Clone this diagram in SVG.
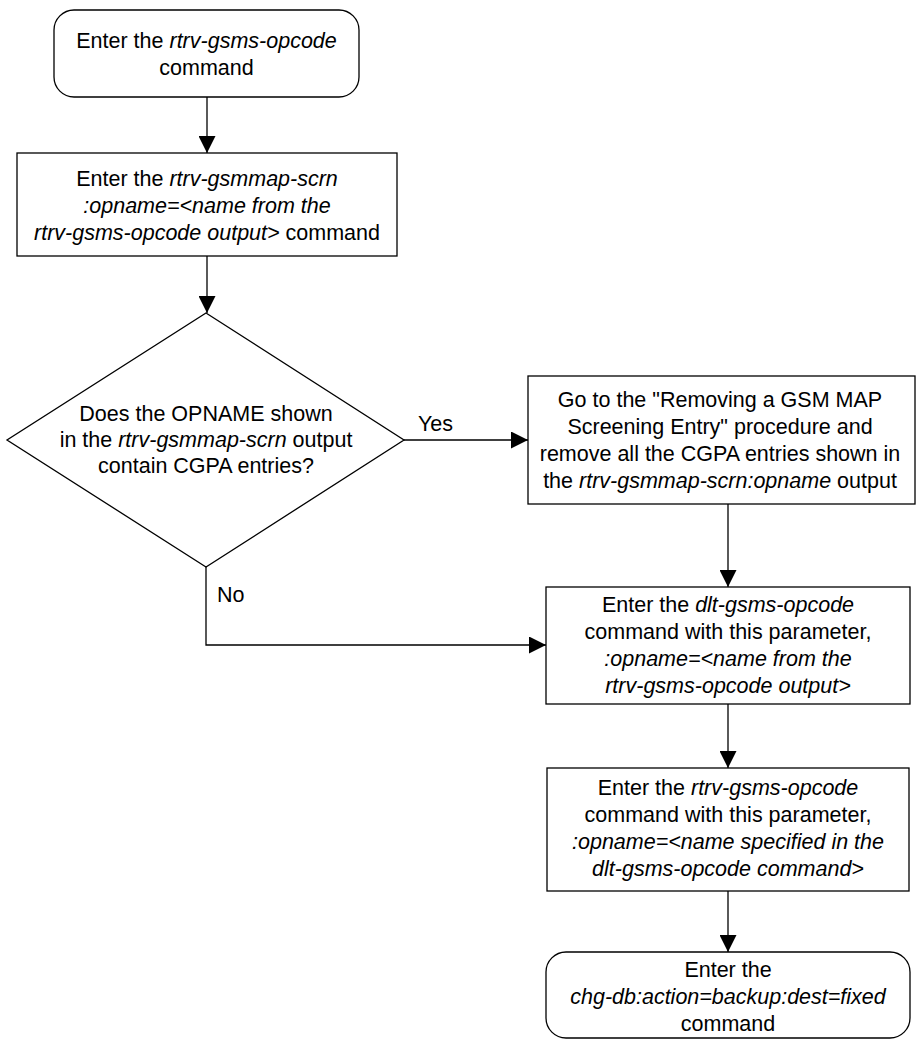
<svg xmlns="http://www.w3.org/2000/svg" width="917" height="1040" viewBox="0 0 917 1040">
<style>
.s{fill:#fff;stroke:#000;stroke-width:1.3}
.c{fill:none;stroke:#000;stroke-width:1.3}
text{font-family:"Liberation Sans",Arial,sans-serif;font-size:21.5px;fill:#000;text-anchor:middle}
.i{font-style:italic}
.l{text-anchor:start}
</style>
<defs>
<marker id="a" markerUnits="userSpaceOnUse" markerWidth="17" markerHeight="17" refX="17" refY="8.5" orient="auto">
<path d="M0,0 L17,8.5 L0,17 z" fill="#000"/>
</marker>
</defs>
<rect width="917" height="1040" fill="#fff"/>
<g id="connectors">
<path class="c" d="M207,97 V153" marker-end="url(#a)"/>
<path class="c" d="M207,256 V313" marker-end="url(#a)"/>
<path class="c" d="M404,440 H528" marker-end="url(#a)"/>
<path class="c" d="M728,504 V587" marker-end="url(#a)"/>
<path class="c" d="M206,567 V645 H546" marker-end="url(#a)"/>
<path class="c" d="M728,704 V768" marker-end="url(#a)"/>
<path class="c" d="M728,891 V952" marker-end="url(#a)"/>
<text class="l" x="418" y="431">Yes</text>
<text class="l" x="217" y="602">No</text>
</g>
<g id="start">
<rect class="s" x="54" y="10" width="305" height="87" rx="20"/>
<text x="206.5" y="48">Enter the <tspan class="i">rtrv-gsms-opcode</tspan></text>
<text x="206.5" y="75">command</text>
</g>
<g id="scrn">
<rect class="s" x="17" y="153" width="380" height="103"/>
<text x="207" y="186">Enter the <tspan class="i">rtrv-gsmmap-scrn</tspan></text>
<text x="207" y="213" class="i">:opname=&lt;name from the</text>
<text x="207" y="240"><tspan class="i">rtrv-gsms-opcode output&gt;</tspan> command</text>
</g>
<g id="decision">
<path class="s" d="M206,313 L404,440 L206,567 L7,440 Z"/>
<text x="206" y="421">Does the OPNAME shown</text>
<text x="206" y="447">in the <tspan class="i">rtrv-gsmmap-scrn</tspan> output</text>
<text x="206" y="473">contain CGPA entries?</text>
</g>
<g id="remove">
<rect class="s" x="528" y="376" width="387" height="128"/>
<text x="720" y="407">Go to the "Removing a GSM MAP</text>
<text x="720" y="434">Screening Entry" procedure and</text>
<text x="720" y="461">remove all the CGPA entries shown in</text>
<text x="720" y="488">the <tspan class="i">rtrv-gsmmap-scrn:opname</tspan> output</text>
</g>
<g id="dlt">
<rect class="s" x="546" y="587" width="364" height="117"/>
<text x="728" y="612">Enter the <tspan class="i">dlt-gsms-opcode</tspan></text>
<text x="728" y="639">command with this parameter,</text>
<text x="728" y="666" class="i">:opname=&lt;name from the</text>
<text x="728" y="693" class="i">rtrv-gsms-opcode output&gt;</text>
</g>
<g id="verify">
<rect class="s" x="547" y="768" width="362" height="123"/>
<text x="728" y="795">Enter the <tspan class="i">rtrv-gsms-opcode</tspan></text>
<text x="728" y="822">command with this parameter,</text>
<text x="728" y="849" class="i">:opname=&lt;name specified in the</text>
<text x="728" y="876" class="i">dlt-gsms-opcode command&gt;</text>
</g>
<g id="backup">
<rect class="s" x="546" y="952" width="364" height="86" rx="20"/>
<text x="728" y="977">Enter the</text>
<text x="728" y="1004" class="i">chg-db:action=backup:dest=fixed</text>
<text x="728" y="1031">command</text>
</g>
</svg>
